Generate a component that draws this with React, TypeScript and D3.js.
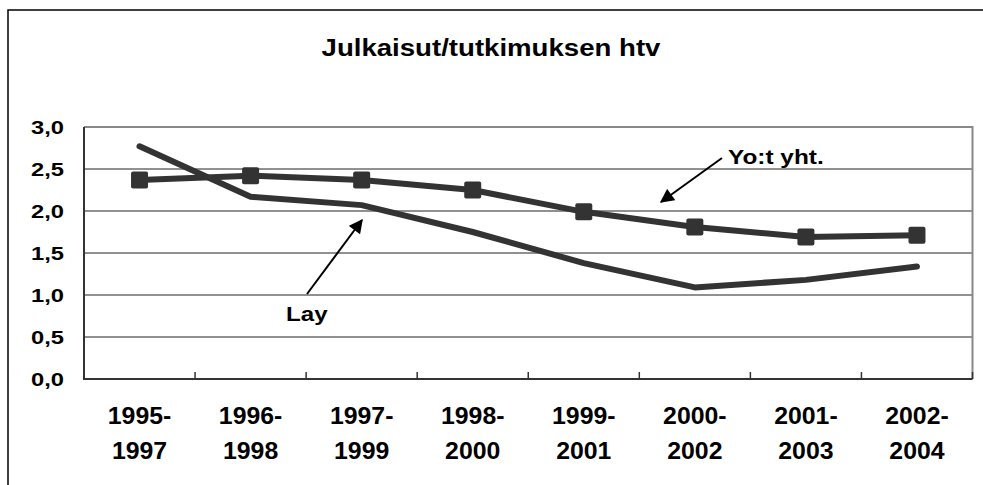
import React from 'react';
import * as d3 from 'd3';

const width = 983;
const height = 485;

const categories = ['1995-1997', '1996-1998', '1997-1999', '1998-2000', '1999-2001', '2000-2002', '2001-2003', '2002-2004'];
const yotYht = [2.37, 2.42, 2.37, 2.25, 1.99, 1.81, 1.69, 1.71];
const lay = [2.77, 2.17, 2.07, 1.75, 1.38, 1.09, 1.18, 1.34];
const yTicks = [0, 0.5, 1, 1.5, 2, 2.5, 3];

const margin = { left: 84, right: 10.5, top: 127, bottom: 106 };
const font = 'Liberation Sans, Arial, sans-serif';
const ink = '#333';

const App = () => {
    const x = d3.scaleBand().domain(categories).range([margin.left, width - margin.right]);
    const y = d3.scaleLinear().domain([0, 3]).range([height - margin.bottom, margin.top]);
    const cx = (c: string) => (x(c) ?? 0) + x.bandwidth() / 2;

    const line = d3.line<number>()
        .x((d, i) => cx(categories[i]))
        .y(d => y(d));

    const fmt = (v: number) => d3.format('.1f')(v).replace('.', ',');

    // tick positions between categories
    const bounds = categories.map(c => x(c) ?? 0).concat([width - margin.right]);

    return (
        <svg width={width} height={height} style={{ position: 'absolute', left: 0, top: 0, background: '#fff' }}>
            <defs>
                <marker id="head" viewBox="0 0 10 10" refX="9" refY="5" markerWidth="7.5" markerHeight="7" orient="auto">
                    <path d="M0,0 L10,5 L0,10 z" fill="#000" />
                </marker>
            </defs>

            {/* outer frame */}
            <rect x={8} y={10} width={1000} height={500} fill="none" stroke="#000" strokeWidth={1.5} />

            <text x={491} y={56} textAnchor="middle" fontFamily={font} fontWeight="bold" fontSize={24}
                transform="translate(491,0) scale(1.15,1) translate(-491,0)">
                Julkaisut/tutkimuksen htv
            </text>

            {/* grid */}
            {yTicks.slice(1, -1).map(t => (
                <line key={t} x1={margin.left} x2={width - margin.right} y1={y(t)} y2={y(t)} stroke="#222" strokeWidth={1} />
            ))}

            {/* plot border: top & right gray */}
            <path d={`M${margin.left},${y(3)} H${width - margin.right} V${y(0)}`} fill="none" stroke="#888" strokeWidth={2} />
            {/* axes */}
            <path d={`M${margin.left},${y(3)} V${y(0)} H${width - margin.right}`} fill="none" stroke={ink} strokeWidth={2} />
            {bounds.slice(1).map((b, i) => (
                <line key={i} x1={b} x2={b} y1={y(0)} y2={y(0) - 7} stroke={ink} strokeWidth={1.5} />
            ))}

            {/* y labels */}
            {yTicks.map(t => (
                <text key={t} x={64} y={y(t) + 7} textAnchor="end" fontFamily={font} fontWeight="bold" fontSize={19}
                    transform={`translate(64,0) scale(1.25,1) translate(-64,0)`}>
                    {fmt(t)}
                </text>
            ))}

            {/* x labels */}
            {categories.map(c => {
                const [a, b] = c.split('-');
                const px = cx(c);
                return (
                    <g key={c} transform={`translate(${px},0) scale(1.08,1)`} fontFamily={font} fontWeight="bold" fontSize={23}>
                        <text x={0} y={424} textAnchor="middle">{a}-</text>
                        <text x={0} y={459} textAnchor="middle">{b}</text>
                    </g>
                );
            })}

            {/* series */}
            <path d={line(lay) ?? ''} fill="none" stroke={ink} strokeWidth={6} strokeLinejoin="round" strokeLinecap="round" />
            <path d={line(yotYht) ?? ''} fill="none" stroke={ink} strokeWidth={6} strokeLinejoin="round" />
            {yotYht.map((v, i) => (
                <rect key={i} x={cx(categories[i]) - 8.5} y={y(v) - 8.5} width={17} height={17} rx={2} fill={ink} />
            ))}

            {/* annotations */}
            <line x1={722} y1={158} x2={661} y2={202} stroke="#000" strokeWidth={2} markerEnd="url(#head)" />
            <text x={728} y={164} fontFamily={font} fontWeight="bold" fontSize={20}
                transform="translate(728,0) scale(1.22,1) translate(-728,0)">Yo:t yht.</text>
            <line x1={307} y1={294} x2={362} y2={220} stroke="#000" strokeWidth={2} markerEnd="url(#head)" />
            <text x={286} y={321} fontFamily={font} fontWeight="bold" fontSize={21}
                transform="translate(286,0) scale(1.15,1) translate(-286,0)">Lay</text>
        </svg>
    );
};

export default App;
